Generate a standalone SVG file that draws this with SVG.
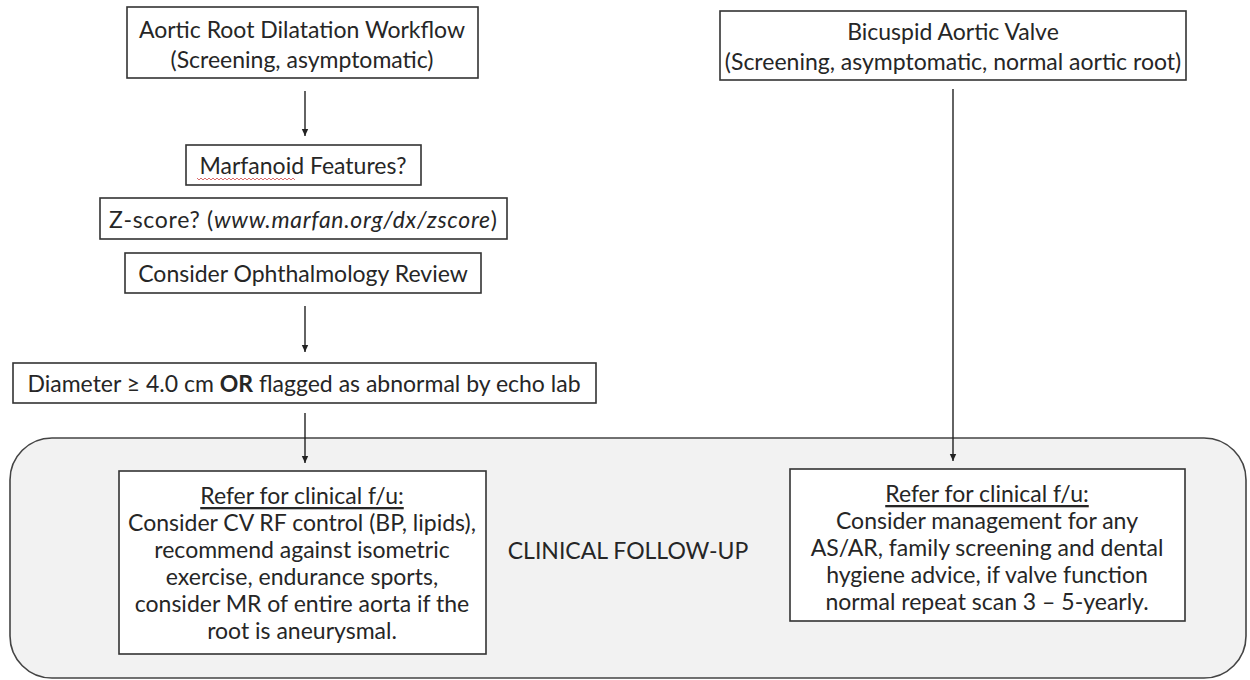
<svg xmlns="http://www.w3.org/2000/svg" width="1250" height="680" viewBox="0 0 1250 680">
  <defs>
    <marker id="arrow" markerWidth="8" markerHeight="8" refX="7" refY="4" orient="auto" markerUnits="userSpaceOnUse">
      <path d="M0,0.8 L7,4 L0,7.2 Z" fill="#222"/>
    </marker>
    <style>
      text { font-family: Lato, "Liberation Sans", sans-serif; font-size: 23px; fill: #262626; text-anchor: middle; dominant-baseline: central; }
      .box { fill: #ffffff; stroke: #333333; stroke-width: 1.6; }
      .conn { fill: none; stroke: #222222; stroke-width: 1.4; marker-end: url(#arrow); }
      .zone { fill: #f2f2f2; stroke: #444444; stroke-width: 1.6; }
      .ul { text-decoration: underline; }
    </style>
  </defs>

  <rect width="1250" height="680" fill="#ffffff"/>

  <!-- follow-up zone -->
  <g id="clinical-follow-up">
    <rect class="zone" x="10" y="438" width="1236" height="240" rx="42" ry="42"/>
    <text x="628" y="550">CLINICAL FOLLOW-UP</text>
  </g>

  <g id="aortic-root-workflow">
    <rect class="box" x="127" y="7" width="351" height="71"/>
    <text x="302" y="29">Aortic Root Dilatation Workflow</text>
    <text x="302" y="59">(Screening, asymptomatic)</text>
  </g>

  <g id="marfanoid">
    <rect class="box" x="186" y="145" width="235" height="40"/>
    <text x="303" y="165">Marfanoid Features?</text>
    <!-- spell-check squiggle under the first word -->
    <path d="M197,178 l2,2 l2,-2 l2,2 l2,-2 l2,2 l2,-2 l2,2 l2,-2 l2,2 l2,-2 l2,2 l2,-2 l2,2 l2,-2 l2,2 l2,-2 l2,2 l2,-2 l2,2 l2,-2 l2,2 l2,-2 l2,2 l2,-2 l2,2 l2,-2 l2,2 l2,-2 l2,2 l2,-2 l2,2 l2,-2 l2,2 l2,-2 l2,2 l2,-2 l2,2 l2,-2 l2,2 l2,-2 l2,2 l2,-2 l2,2 l2,-2 l2,2 l2,-2 l2,2 l2,-2 l2,2" fill="none" stroke="#d04848" stroke-width="0.8"/>
  </g>

  <g id="z-score">
    <rect class="box" x="100" y="198" width="407" height="41"/>
    <text x="303" y="219" textLength="388" lengthAdjust="spacing">Z-score? (<tspan font-style="italic">www.marfan.org/dx/zscore</tspan>)</text>
  </g>

  <g id="ophthalmology">
    <rect class="box" x="125" y="253" width="356" height="40"/>
    <text x="303" y="273">Consider Ophthalmology Review</text>
  </g>

  <g id="diameter">
    <rect class="box" x="13" y="363" width="583" height="40"/>
    <text x="304" y="383">Diameter ≥ 4.0 cm <tspan font-weight="bold">OR</tspan> flagged as abnormal by echo lab</text>
  </g>

  <g id="aortic-follow-up">
    <rect class="box" x="119" y="471" width="367" height="183"/>
    <text class="ul" x="302" y="495">Refer for clinical f/u:</text>
    <text x="302" y="522">Consider CV RF control (BP, lipids),</text>
    <text x="302" y="549">recommend  against isometric</text>
    <text x="302" y="576">exercise, endurance sports,</text>
    <text x="302" y="603">consider MR of entire aorta if the</text>
    <text x="302" y="630">root  is aneurysmal.</text>
  </g>

  <g id="bicuspid-valve">
    <rect class="box" x="720" y="11" width="466" height="69"/>
    <text x="953" y="31">Bicuspid Aortic Valve</text>
    <text x="953" y="61">(Screening, asymptomatic, normal aortic root)</text>
  </g>

  <g id="bicuspid-follow-up">
    <rect class="box" x="790" y="469" width="395" height="152"/>
    <text class="ul" x="987" y="493">Refer for clinical f/u:</text>
    <text x="987" y="520">Consider management for any</text>
    <text x="987" y="547">AS/AR, family screening and dental</text>
    <text x="987" y="574">hygiene advice, if valve function</text>
    <text x="987" y="601">normal repeat scan 3 – 5-yearly.</text>
  </g>

  <g id="connectors">
    <line class="conn" x1="305" y1="91" x2="305" y2="136"/>
    <line class="conn" x1="305" y1="306" x2="305" y2="352"/>
    <line class="conn" x1="305" y1="413" x2="305" y2="463"/>
    <line class="conn" x1="953" y1="89" x2="953" y2="461"/>
  </g>
</svg>
